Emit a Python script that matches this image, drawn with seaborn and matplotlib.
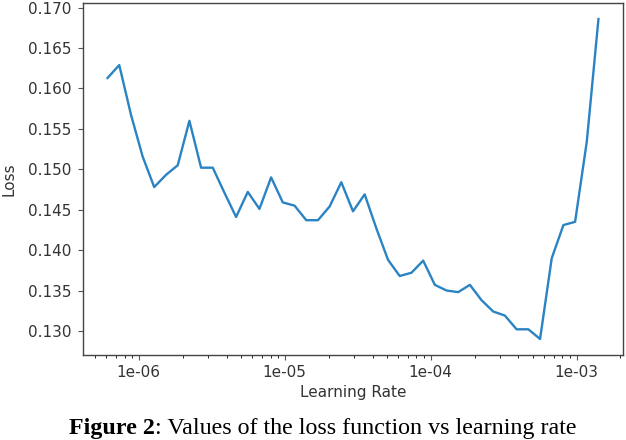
import numpy as np
import pandas as pd
import matplotlib
matplotlib.use("Agg")
import matplotlib.pyplot as plt
import matplotlib.ticker as mticker
import seaborn as sns

learning_rate = [6.11e-7, 7.35e-7, 8.83e-7, 1.062e-6, 1.276e-6, 1.535e-6, 1.849e-6,
                 2.223e-6, 2.673e-6, 3.214e-6, 3.864e-6, 4.645e-6, 5.585e-6, 6.714e-6,
                 8.072e-6, 9.705e-6, 1.169e-5, 1.406e-5, 1.690e-5, 2.032e-5, 2.443e-5,
                 2.938e-5, 3.532e-5, 4.246e-5, 5.105e-5, 6.138e-5, 7.396e-5, 8.892e-5,
                 1.069e-4, 1.285e-4, 1.545e-4, 1.858e-4, 2.234e-4, 2.685e-4, 3.228e-4,
                 3.882e-4, 4.677e-4, 5.623e-4, 6.761e-4, 8.128e-4, 9.772e-4, 1.175e-3,
                 1.413e-3]
loss = [0.1613, 0.1629, 0.1568, 0.1516, 0.1478, 0.1493, 0.1505, 0.1560, 0.1502, 0.1502,
        0.1471, 0.1441, 0.1472, 0.1451, 0.1490, 0.1459, 0.1455, 0.1437, 0.1437, 0.1454,
        0.1484, 0.1448, 0.1469, 0.1427, 0.1388, 0.1368, 0.1372, 0.1387, 0.1357, 0.1350,
        0.1348, 0.1357, 0.1338, 0.1324, 0.1319, 0.1302, 0.1302, 0.1290, 0.1390, 0.1431,
        0.1435, 0.1534, 0.1686]
y_ticks = [0.130, 0.135, 0.140, 0.145, 0.150, 0.155, 0.160, 0.165, 0.170]
x_label = "Learning Rate"
y_label = "Loss"
caption_bold = "Figure 2"
caption_rest = ": Values of the loss function vs learning rate"

df = pd.DataFrame({"lr": learning_rate, "loss": loss})

plt.rcParams["font.family"] = ["DejaVu Sans"]
plt.rcParams["font.size"] = 11
W, H = 626, 440
fig = plt.figure(figsize=(W / 100, H / 100), dpi=100)
ax = fig.add_axes([83 / W, 1 - 355 / H, 540 / W, 352 / H])

sns.lineplot(data=df, x="lr", y="loss", ax=ax, color="#2a83c2", linewidth=1.7)
ax.set_xscale("log")
ax.margins(x=0.05, y=0.05)
ax.xaxis.set_major_formatter(mticker.FuncFormatter(lambda v, p: f"{v:.0e}"))
ax.set_yticks(y_ticks)
ax.yaxis.set_major_formatter(mticker.FormatStrFormatter("%.3f"))
ax.set_xlabel(x_label, fontsize=11, color="#333333")
ax.set_ylabel(y_label, fontsize=11, color="#333333", labelpad=8)
ax.tick_params(labelsize=11, labelcolor="#333333", color="#555555")
ax.tick_params(axis="y", pad=5)
for s in ax.spines.values():
    s.set_color("#444444")
    s.set_linewidth(1.0)

t1 = fig.text(69 / W, 1 / H, caption_bold, family="Liberation Serif",
              weight="bold", fontsize=17.3, ha="left", va="bottom")
fig.canvas.draw()
ax.annotate(caption_rest, xy=(1, 0), xycoords=t1, va="bottom", ha="left",
            family="Liberation Serif", fontsize=17.3, annotation_clip=False)

fig.savefig("out.png", dpi=100)
